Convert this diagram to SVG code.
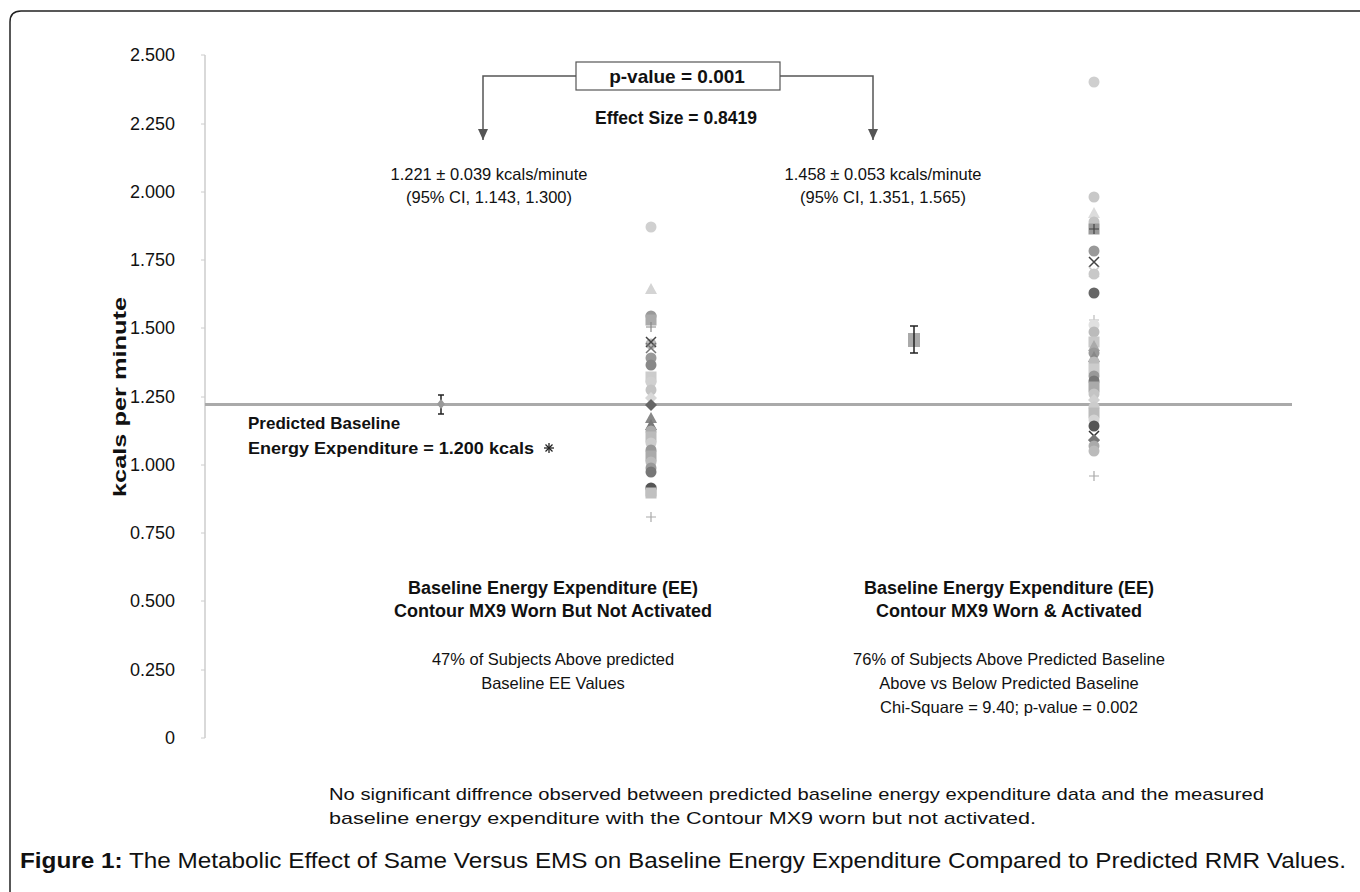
<svg xmlns="http://www.w3.org/2000/svg" width="1360" height="892" viewBox="0 0 1360 892">
<style>
text{font-family:"Liberation Sans",Arial,sans-serif;fill:#111}
.tick{font-size:18px;text-anchor:end}
.b{font-weight:bold}
.m{font-size:16.5px;text-anchor:middle}
.h{font-size:18px;text-anchor:middle;font-weight:bold}
.conn{fill:none;stroke:#555;stroke-width:1.5}
</style>
<defs>
<marker id="arr" markerWidth="12" markerHeight="12" refX="11" refY="5" orient="auto" markerUnits="userSpaceOnUse" viewBox="0 0 12 10">
<path d="M0,0 L11,5 L0,10 z" fill="#555"/>
</marker>
<circle id="c" r="5.5"/>
<rect id="s" x="-5.5" y="-5.5" width="11" height="11"/>
<path id="t" d="M0,-6 L6,5 L-6,5 z"/>
<path id="d" d="M0,-6 L6,0 L0,6 L-6,0 z"/>
<path id="x" d="M-5,-5 L5,5 M-5,5 L5,-5" fill="none" stroke-width="1.5"/>
<path id="p" d="M-5,0 L5,0 M0,-5 L0,5" fill="none" stroke-width="1.2"/>
</defs>
<rect width="1360" height="892" fill="#fff"/>
<path d="M10,892 L10,22 Q10,11 21,11 L1360,11" fill="none" stroke="#222" stroke-width="1.5"/>

<g id="axis">
<line x1="205" y1="55" x2="205" y2="738" stroke="#ccc" stroke-width="1.5"/>
<g stroke="#ccc" stroke-width="1">
<line x1="201" y1="55" x2="205" y2="55"/><line x1="201" y1="124" x2="205" y2="124"/><line x1="201" y1="192" x2="205" y2="192"/><line x1="201" y1="260" x2="205" y2="260"/><line x1="201" y1="328" x2="205" y2="328"/><line x1="201" y1="397" x2="205" y2="397"/><line x1="201" y1="465" x2="205" y2="465"/><line x1="201" y1="533" x2="205" y2="533"/><line x1="201" y1="601" x2="205" y2="601"/><line x1="201" y1="670" x2="205" y2="670"/><line x1="201" y1="738" x2="205" y2="738"/>
</g>
<text class="tick" x="175" y="61">2.500</text>
<text class="tick" x="175" y="130">2.250</text>
<text class="tick" x="175" y="198">2.000</text>
<text class="tick" x="175" y="266">1.750</text>
<text class="tick" x="175" y="334">1.500</text>
<text class="tick" x="175" y="403">1.250</text>
<text class="tick" x="175" y="471">1.000</text>
<text class="tick" x="175" y="539">0.750</text>
<text class="tick" x="175" y="607">0.500</text>
<text class="tick" x="175" y="676">0.250</text>
<text class="tick" x="175" y="744">0</text>
<text class="b" font-size="19" text-anchor="middle" textLength="200" lengthAdjust="spacingAndGlyphs" transform="translate(126,397) rotate(-90)">kcals per minute</text>
</g>

<g id="baseline">
<line x1="205" y1="404.5" x2="1292" y2="404.5" stroke="#aaa" stroke-width="3"/>
</g>

<g id="scatter-left" transform="translate(651,0)">
<use href="#c" y="227" fill="#d0d0d0"/>
<use href="#t" y="289" fill="#d4d4d4"/>
<use href="#c" y="316" fill="#999"/>
<use href="#s" y="320" fill="#aaa"/>
<use href="#p" y="327" stroke="#888"/>
<use href="#c" y="344" fill="#bbb"/>
<use href="#x" y="342" stroke="#444"/>
<use href="#x" y="348" stroke="#777"/>
<use href="#c" y="358" fill="#999"/>
<use href="#c" y="365" fill="#888"/>
<use href="#s" y="377" fill="#ccc"/>
<use href="#c" y="382" fill="#d0d0d0"/>
<use href="#c" y="390" fill="#c4c4c4"/>
<use href="#d" y="398" fill="#d8d8d8"/>
<use href="#d" y="405" fill="#666"/>
<use href="#t" y="418" fill="#888"/>
<use href="#t" y="425" fill="#777"/>
<use href="#c" y="431" fill="#aaa"/>
<use href="#s" y="437" fill="#bbb"/>
<use href="#c" y="443" fill="#ccc"/>
<use href="#c" y="450" fill="#999"/>
<use href="#s" y="456" fill="#aaa"/>
<use href="#c" y="462" fill="#bbb"/>
<use href="#c" y="468" fill="#999"/>
<use href="#c" y="472" fill="#777"/>
<use href="#s" y="491" fill="#bbb"/>
<use href="#c" y="488" fill="#555"/>
<use href="#s" y="493" fill="#c0c0c0"/>
<use href="#p" y="517" stroke="#aaa"/>
</g>

<g id="scatter-right" transform="translate(1094,0)">
<use href="#c" y="82" fill="#cfcfcf"/>
<use href="#c" y="197" fill="#c8c8c8"/>
<use href="#t" y="213" fill="#dcdcdc"/>
<use href="#c" y="222" fill="#c4c4c4"/>
<use href="#s" y="229" fill="#999"/>
<use href="#p" y="229" stroke="#444"/>
<use href="#c" y="251" fill="#999"/>
<use href="#x" y="262" stroke="#444"/>
<use href="#x" y="272" stroke="#ccc"/>
<use href="#c" y="274" fill="#c8c8c8"/>
<use href="#c" y="293" fill="#666"/>
<use href="#p" y="320" stroke="#bbb"/>
<use href="#c" y="325" fill="#e0e0e0"/>
<use href="#c" y="332" fill="#bbb"/>
<use href="#s" y="342" fill="#c8c8c8"/>
<use href="#t" y="346" fill="#aaa"/>
<use href="#c" y="353" fill="#999"/>
<use href="#t" y="357" fill="#888"/>
<use href="#c" y="362" fill="#bbb"/>
<use href="#s" y="369" fill="#ccc"/>
<use href="#c" y="376" fill="#999"/>
<use href="#c" y="381" fill="#777"/>
<use href="#s" y="387" fill="#aaa"/>
<use href="#c" y="394" fill="#c4c4c4"/>
<use href="#d" y="400" fill="#d0d0d0"/>
<use href="#c" y="407" fill="#ccc"/>
<use href="#s" y="413" fill="#bbb"/>
<use href="#c" y="420" fill="#d4d4d4"/>
<use href="#c" y="426" fill="#555"/>
<use href="#x" y="436" stroke="#333"/>
<use href="#d" y="440" fill="#777"/>
<use href="#c" y="446" fill="#aaa"/>
<use href="#c" y="451" fill="#bbb"/>
<use href="#p" y="476" stroke="#aaa"/>
</g>

<g id="mean-left">
<line x1="441" y1="395" x2="441" y2="414" stroke="#222" stroke-width="1.5"/>
<line x1="438" y1="395" x2="444" y2="395" stroke="#222" stroke-width="1.5"/>
<line x1="438" y1="414" x2="444" y2="414" stroke="#222" stroke-width="1.5"/>
<path d="M441,399 L445,404 L441,409 L437,404 z" fill="#999"/>
</g>

<g id="mean-right">
<rect x="908" y="333" width="12" height="14" fill="#aaa"/>
<line x1="914" y1="326" x2="914" y2="353" stroke="#222" stroke-width="1.5"/>
<line x1="910" y1="326" x2="918" y2="326" stroke="#222" stroke-width="1.5"/>
<line x1="910" y1="353" x2="918" y2="353" stroke="#222" stroke-width="1.5"/>
</g>

<g id="connectors">
<path class="conn" d="M576,76 L483,76 L483,140" marker-end="url(#arr)"/>
<path class="conn" d="M780,76 L873,76 L873,140" marker-end="url(#arr)"/>
</g>

<g id="pvalue">
<rect x="576" y="62" width="204" height="28" fill="#fff" stroke="#555" stroke-width="1.2"/>
<text class="b" font-size="19" text-anchor="middle" x="677" y="83">p-value = 0.001</text>
</g>
<g id="effect"><text class="b" font-size="17.5" text-anchor="middle" x="676" y="124">Effect Size = 0.8419</text></g>

<g id="stat-left">
<text class="m" x="489" y="180">1.221 ± 0.039 kcals/minute</text>
<text class="m" x="489" y="203">(95% CI, 1.143, 1.300)</text>
</g>
<g id="stat-right">
<text class="m" x="883" y="180">1.458 ± 0.053 kcals/minute</text>
<text class="m" x="883" y="203">(95% CI, 1.351, 1.565)</text>
</g>

<g id="predicted">
<text class="b" font-size="17" x="248" y="429">Predicted Baseline</text>
<text class="b" font-size="17" x="248" y="454" textLength="286" lengthAdjust="spacingAndGlyphs">Energy Expenditure = 1.200 kcals</text>
<g stroke="#222" stroke-width="1.3" transform="translate(549,448)">
<line x1="-5" y1="0" x2="5" y2="0"/><line x1="0" y1="-5" x2="0" y2="5"/><line x1="-3.5" y1="-3.5" x2="3.5" y2="3.5"/><line x1="-3.5" y1="3.5" x2="3.5" y2="-3.5"/>
</g>
</g>

<g id="group-left">
<text class="h" x="553" y="594">Baseline Energy Expenditure (EE)</text>
<text class="h" x="553" y="617">Contour MX9 Worn But Not Activated</text>
<text class="m" x="553" y="665">47% of Subjects Above predicted</text>
<text class="m" x="553" y="689">Baseline EE Values</text>
</g>
<g id="group-right">
<text class="h" x="1009" y="594">Baseline Energy Expenditure (EE)</text>
<text class="h" x="1009" y="617">Contour MX9 Worn &amp; Activated</text>
<text class="m" x="1009" y="665">76% of Subjects Above Predicted Baseline</text>
<text class="m" x="1009" y="689">Above vs Below Predicted Baseline</text>
<text class="m" x="1009" y="713">Chi-Square = 9.40; p-value = 0.002</text>
</g>

<g id="note">
<text font-size="17" x="329" y="800" textLength="935" lengthAdjust="spacingAndGlyphs">No significant diffrence observed between predicted baseline energy expenditure data and the measured</text>
<text font-size="17" x="329" y="824" textLength="707" lengthAdjust="spacingAndGlyphs">baseline energy expenditure with the Contour MX9 worn but not activated.</text>
</g>

<g id="caption">
<text font-size="22" x="20" y="868" textLength="1326" lengthAdjust="spacingAndGlyphs"><tspan font-weight="bold">Figure 1:</tspan> The Metabolic Effect of Same Versus EMS on Baseline Energy Expenditure Compared to Predicted RMR Values.</text>
</g>
</svg>
